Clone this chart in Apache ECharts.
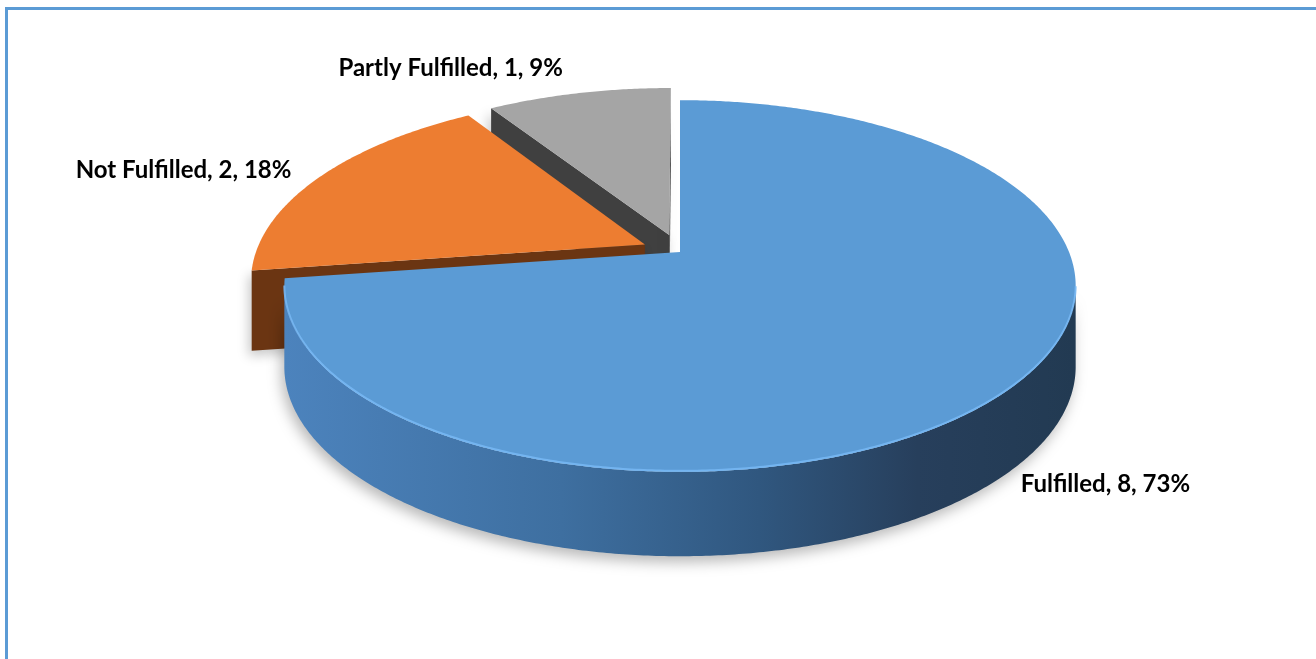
<!DOCTYPE html>
<html>
<head>
<meta charset="utf-8">
<script src="https://cdn.jsdelivr.net/npm/echarts@6/dist/echarts.min.js"></script>
<style>
  html, body { margin: 0; padding: 0; background: #ffffff; }
  #chart { width: 1316px; height: 659px; }
</style>
</head>
<body>
<div id="chart"></div>
<script>
// Survey outcome counts
const categories = ['Fulfilled', 'Not Fulfilled', 'Partly Fulfilled'];
const values = [8, 2, 1];
const exploded = [false, true, true];

// Slice palette: top face, cut (radial) face, outer rim gradient
const TOP_COLORS = ['#5b9bd5', '#ed7d31', '#a5a5a5'];
const CUT_COLORS = ['#2c5074', '#6b3512', '#404040'];
const RIM_STOPS = [
  [[0, '#4c83bd'], [0.35, '#3e6fa0'], [0.6, '#30577f'], [0.8, '#273f5c'], [1, '#223a52']],
  [[0, '#6f3812'], [1, '#5e2f0f']],
  [[0, '#5a5a5a'], [1, '#3c3c3c']]
];

// Pseudo-3D view parameters (pie radius = 1 world unit)
const CX = 680, CY = 252, SCALE = 389;
const TILT = 27.5 * Math.PI / 180;
const DIST = 4.85;          // camera distance for perspective
const THICK_PX = 80;        // extrusion depth on screen
const EXPLODE = 0.1;        // explosion distance for pulled-out slices
const cosT = Math.cos(TILT), sinT = Math.sin(TILT);

function project(x, z) {
  const v = -z * sinT;
  const d = z * cosT;
  const k = DIST / (DIST - d);
  return [CX + x * SCALE * k, CY - v * SCALE * k];
}
function drop(p) {
  return [p[0], p[1] + THICK_PX + 0.02 * (p[1] - CY)];
}

const total = values.reduce((a, b) => a + b, 0);
const slices = [];
let acc = 0;
values.forEach((v, i) => {
  const a1 = acc / total * Math.PI * 2;
  acc += v;
  const a2 = acc / total * Math.PI * 2;
  const mid = (a1 + a2) / 2;
  const e = exploded[i] ? EXPLODE : 0;
  slices.push({ a1, a2, mid, ex: e * Math.sin(mid), ez: -e * Math.cos(mid) });
});
// paint back slices first
const order = slices.map((s, i) => i).sort((p, q) =>
  (slices[p].ez - Math.cos(slices[p].mid)) - (slices[q].ez - Math.cos(slices[q].mid)));
const rank = [];
order.forEach((idx, r) => { rank[idx] = r; });

function rimPoint(s, a, r) {
  return project(s.ex + r * Math.sin(a), s.ez - r * Math.cos(a));
}

function renderItem(params, api) {
  const i = params.dataIndex;
  const s = slices[i];
  const base = rank[i] * 10;
  const children = [];
  const steps = Math.max(6, Math.ceil((s.a2 - s.a1) / (Math.PI / 360)));
  const angles = [];
  for (let k = 0; k <= steps; k++) angles.push(s.a1 + (s.a2 - s.a1) * k / steps);
  const top = angles.map(a => rimPoint(s, a, 1));

  // outer rim: a wall is seen wherever the top edge runs right-to-left
  const runs = [];
  let run = [];
  for (let k = 0; k < top.length; k++) {
    const nxt = top[Math.min(k + 1, top.length - 1)];
    const prv = top[Math.max(k - 1, 0)];
    const vis = (nxt[0] - prv[0]) < 0;
    if (vis) run.push(top[k]);
    else if (run.length) { runs.push(run); run = []; }
  }
  if (run.length) runs.push(run);
  runs.forEach(r => {
    if (r.length < 2) return;
    children.push({
      type: 'polygon', z2: base + 1,
      shape: { points: r.concat(r.map(drop).reverse()) },
      style: {
        fill: new echarts.graphic.LinearGradient(0, 0, 1, 0,
          RIM_STOPS[i].map(st => ({ offset: st[0], color: st[1] }))),
        shadowBlur: 14, shadowColor: 'rgba(0,0,0,0.28)', shadowOffsetY: 6, shadowOffsetX: -3
      }
    });
  });

  // radial cut faces
  const apex = project(s.ex, s.ez);
  const first = top[0], last = top[top.length - 1];
  const cuts = [];
  if (first[0] - apex[0] < -0.5) cuts.push(first);
  if (apex[0] - last[0] < -0.5) cuts.push(last);
  cuts.forEach(p => {
    children.push({
      type: 'polygon', z2: base + 2,
      shape: { points: [apex, p, drop(p), drop(apex)] },
      style: {
        fill: CUT_COLORS[i],
        shadowBlur: 12, shadowColor: 'rgba(0,0,0,0.22)', shadowOffsetY: 5, shadowOffsetX: -3
      }
    });
  });

  // top face
  children.push({
    type: 'polygon', z2: base + 3,
    shape: { points: [apex].concat(top) },
    style: { fill: TOP_COLORS[i] }
  });
  // soft light edge along the front of the top face
  if (i === 0) {
    runs.forEach(r => {
      children.push({
        type: 'polyline', z2: base + 4,
        shape: { points: r.map(p => [p[0], p[1] - 1]) },
        style: { stroke: 'rgba(120,185,245,0.85)', lineWidth: 2, fill: null }
      });
    });
  }

  // data label: "name, value, pct%"
  const front = Math.cos(s.mid) < 0;
  const rimMid = rimPoint(s, s.mid, 1);
  const anchor = front ? drop(rimMid) : rimMid;
  const dx = anchor[0] - CX, dy = anchor[1] - CY;
  const len = Math.hypot(dx, dy) || 1;
  const gap = front ? 8 : 30;
  const lx = anchor[0] + dx / len * gap;
  const ly = anchor[1] + dy / len * gap;
  const val = api.value(0);
  const pct = Math.round(val / total * 100);
  children.push({
    type: 'text', z2: 100,
    x: lx, y: ly,
    style: {
      text: categories[i] + ', ' + val + ', ' + pct + '%',
      fill: '#000000',
      font: 'bold 24px Lato',
      align: lx > CX ? 'left' : 'right',
      verticalAlign: front ? 'top' : 'middle'
    }
  });

  return { type: 'group', children };
}

const chart = echarts.init(document.getElementById('chart'), null, { renderer: 'canvas' });
chart.setOption({
  animation: false,
  backgroundColor: '#ffffff',
  graphic: [{
    type: 'rect', z: -1,
    shape: { x: 6.5, y: 8.5, width: 1400, height: 800 },
    style: { fill: null, stroke: '#5b9bd5', lineWidth: 3 }
  }],
  series: [{
    type: 'custom',
    coordinateSystem: 'none',
    renderItem: renderItem,
    data: values.map((v, i) => ({ name: categories[i], value: v }))
  }]
});
</script>
</body>
</html>
